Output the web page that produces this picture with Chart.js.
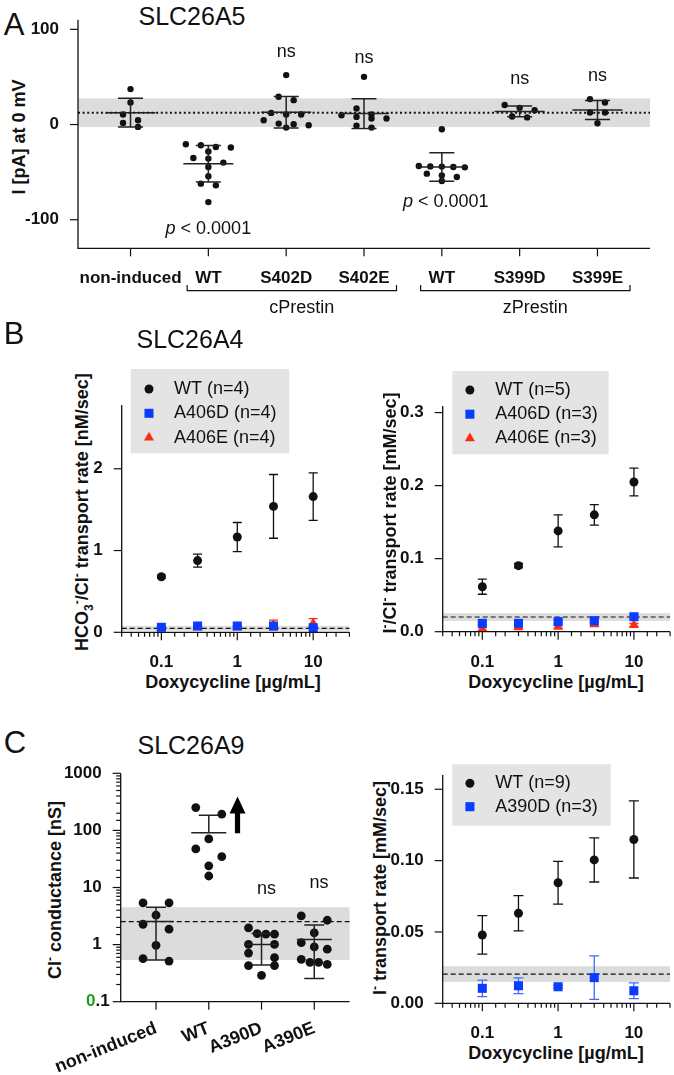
<!DOCTYPE html>
<html lang="en">
<head>
<meta charset="utf-8">
<title>SLC26A5 / SLC26A4 / SLC26A9 mutants</title>
<script src="https://cdn.jsdelivr.net/npm/chart.js@4.4.1/dist/chart.umd.min.js"></script>
<style>
  html, body { margin: 0; padding: 0; background: #fff; }
  body { position: relative; width: 674px; height: 1075px; overflow: hidden;
         font-family: "Liberation Sans", Arial, Helvetica, sans-serif; color: #111; }
  canvas { position: absolute; }
  .lbl { position: absolute; white-space: nowrap; line-height: 1; transform: translate(-50%, -50%); }
  .vert { transform: translate(-50%, -50%) rotate(-90deg); }
  .panel { font-size: 31px; }
  .title { font-size: 25px; }
  .axis { font-size: 18px; font-weight: bold; }
  .axis sub, .axis sup { font-size: 12px; line-height: 0; }
</style>
</head>
<body>
<div class="lbl panel" style="left:14px;top:24px">A</div>
<div class="lbl title" style="left:192px;top:16px">SLC26A5</div>
<div class="lbl axis vert" style="left:19px;top:137px">I [pA] at 0 mV</div>
<canvas id="chartA"></canvas>

<div class="lbl panel" style="left:14px;top:333px">B</div>
<div class="lbl title" style="left:190px;top:339px">SLC26A4</div>
<div class="lbl axis vert" style="left:82px;top:512px">HCO<sub>3</sub><sup>-</sup>/Cl<sup>-</sup> transport rate [nM/sec]</div>
<div class="lbl axis" style="left:233px;top:682px">Doxycycline [µg/mL]</div>
<canvas id="chartB1"></canvas>
<div class="lbl axis vert" style="left:390px;top:513px">I<sup>-</sup>/Cl<sup>-</sup> transport rate [mM/sec]</div>
<div class="lbl axis" style="left:556px;top:682px">Doxycycline [µg/mL]</div>
<canvas id="chartB2"></canvas>

<div class="lbl panel" style="left:15px;top:742px">C</div>
<div class="lbl title" style="left:191px;top:745px">SLC26A9</div>
<div class="lbl axis vert" style="left:55px;top:890px">Cl<sup>-</sup> conductance [nS]</div>
<canvas id="chartC1"></canvas>
<div class="lbl axis vert" style="left:380px;top:888px">I<sup>-</sup> transport rate [mM/sec]</div>
<div class="lbl axis" style="left:556px;top:1053px">Doxycycline [µg/mL]</div>
<canvas id="chartC2"></canvas>

<script>
// ---------- Panel A: SLC26A5, current at 0 mV (pA) ----------
const catsA = ['non-induced', 'WT', 'S402D', 'S402E', 'WT', 'S399D', 'S399E'];
const yTicksA = [-100, 0, 100];
const nonInducedA = [37.2, 23.2, 10.5, 4.5, 1.7, -2.5];
const cPrestinWT = [-20.7, -21.8, -23.6, -24.2, -28.4, -35.1, -35.8, -40.0, -44.6, -54.4, -62.1, -63.9, -81.5];
const cPrestinS402D = [51.9, 29.1, 25.6, 12.2, 10.5, 10.5, 4.5, 1.0, 0.3, -0.7, -3.2];
const cPrestinS402E = [50.1, 16.8, 10.5, 9.8, 8.0, 6.3, 6.3, -1.1, -3.2];
const zPrestinWT = [-4.9, -43.5, -44.0, -44.6, -45.0, -44.2, -51.6, -53.4, -55.1, -59.3];
const zPrestinS399D = [20.5, 17.5, 15.0, 8.5, 7.5];
const zPrestinS399E = [26.7, 23.2, 12.6, 12.6, 1.4];
const nsA = [[2, 76.4], [3, 69.5], [5, 47.7], [6, 51.2]];
const pLabelsA = [[1, -109.5], [4.05, -81.5]];
const bracketsA = [{from: 1, to: 3, label: 'cPrestin'}, {from: 4, to: 6, label: 'zPrestin'}];

// ---------- Panel B: SLC26A4 transport vs doxycycline ----------
const doses = [0.1, 0.3, 1, 3, 10];
const b1WT = [0.68, 0.877, 1.165, 1.54, 1.66];
const b1WTsd = [0.02, 0.08, 0.178, 0.39, 0.29];
const b1A406D = [0.061, 0.077, 0.077, 0.077, 0.056];
const b1A406Dsd = [0.005, 0.005, 0.005, 0.005, 0.005];
const b1A406E = [0.05, 0.06, 0.06, 0.09, 0.11];
const b1A406Esd = [0.01, 0.01, 0.01, 0.06, 0.057];
const b1Control = [0.049, 0.029];          // mean, SD
const b1Ticks = [0, 1, 2];

const b2WT = [0.0616, 0.0904, 0.138, 0.160, 0.205];
const b2WTsd = [0.0103, 0.003, 0.022, 0.014, 0.019];
const b2A406D = [0.0115, 0.0115, 0.0137, 0.0151, 0.0205];
const b2A406Dsd = [0.002, 0.002, 0.002, 0.002, 0.002];
const b2A406E = [0.0037, 0.006, 0.0068, 0.010, 0.0092];
const b2A406Esd = [0.002, 0.002, 0.002, 0.002, 0.002];
const b2Control = [0.0201, 0.0053];
const b2Ticks = [0, 0.1, 0.2, 0.3];

// ---------- Panel C: SLC26A9 ----------
const catsC = ['non-induced', 'WT', 'A390D', 'A390E'];
const nonInducedC = [5.38, 5.38, 3.27, 2.27, 1.86, 0.97, 0.515, 0.567];
const wtC = [251, 192.7, 71, 47.3, 34.6, 24, 15.9];
const a390dC = [1.96, 1.52, 1.52, 1.56, 1.01, 1.01, 0.71, 0.59, 0.43, 0.43, 0.29];
const a390eC = [3.18, 2.67, 1.6, 1.08, 0.91, 0.83, 0.55, 0.45, 0.49, 0.49];
const nsC = [[2.095, 9.3], [3.09, 12.1]];
const arrowC = {x: 1.545, from: 89, to: 393};

const c2WT = [0.0479, 0.0631, 0.0845, 0.1005, 0.1148];
const c2WTsd = [0.0135, 0.0124, 0.015, 0.0155, 0.027];
const c2A390D = [0.0105, 0.0123, 0.0116, 0.018, 0.0088];
const c2A390Dsd = [0.0058, 0.0055, 0.001, 0.0153, 0.0055];
const c2Control = [0.0205, 0.0055];
const c2Ticks = [0, 0.05, 0.10, 0.15];

// ---------- styling ----------
const FONT = '"Liberation Sans", Arial, Helvetica, sans-serif';
const INK = '#111111';
const BLUE = '#0a3cff';
const BLUE_ERR = '#3d6cf5';
const RED = '#ff2a10';
const BAND = '#dcdcdc';
const LEGEND_BG = '#e4e4e4';
const tickFont = {family: FONT, size: 17, weight: 'bold'};

Chart.defaults.font.family = FONT;
Chart.defaults.color = INK;

function isPow10(v) {
    var e = Math.log10(v);
    return Math.abs(e - Math.round(e)) < 1e-6;
}

function stats(vals) {
    var n = vals.length;
    var m = vals.reduce(function (a, b) { return a + b; }, 0) / n;
    var ss = vals.reduce(function (a, b) { return a + (b - m) * (b - m); }, 0);
    return [m, Math.sqrt(ss / (n - 1))];
}

function drawMarker(ctx, style, x, y, r, color) {
    ctx.fillStyle = color;
    ctx.beginPath();
    if (style === 'rect') {
        var s = r * Math.SQRT1_2;
        ctx.rect(x - s, y - s, 2 * s, 2 * s);
    } else if (style === 'triangle') {
        for (var k = 0; k < 3; k++) {
            var a = k * 2 * Math.PI / 3;
            var px = x + Math.sin(a) * r, py = y - Math.cos(a) * r;
            if (k === 0) ctx.moveTo(px, py); else ctx.lineTo(px, py);
        }
        ctx.closePath();
    } else {
        ctx.arc(x, y, r, 0, Math.PI * 2);
    }
    ctx.fill();
}

/**
 * Axis lines and tick marks (minor ticks on log axes are shorter)
 */
Chart.register({
    id: 'frame',
    afterDraw: function (chart, args, o) {
        var ctx = chart.ctx, a = chart.chartArea;
        ctx.save();
        ctx.strokeStyle = INK;
        ctx.lineWidth = 1.3;
        ctx.beginPath();
        ctx.moveTo(a.left, a.top);
        ctx.lineTo(a.left, a.bottom);
        ctx.lineTo(a.right, a.bottom);
        ctx.stroke();
        ctx.lineWidth = 1.2;
        ['x', 'y'].forEach(function (id) {
            var s = chart.scales[id];
            s.ticks.forEach(function (t) {
                var p = s.getPixelForValue(t.value);
                var len = (s.type === 'logarithmic' && !isPow10(t.value)) ? 4.5 : 8;
                ctx.beginPath();
                if (id === 'x') { ctx.moveTo(p, a.bottom); ctx.lineTo(p, a.bottom + len); }
                else { ctx.moveTo(a.left, p); ctx.lineTo(a.left - len, p); }
                ctx.stroke();
            });
        });
        ctx.restore();
    }
});

/**
 * Grey control band (mean +/- SD) with its mean line
 */
Chart.register({
    id: 'band',
    beforeDatasetsDraw: function (chart, args, o) {
        if (!o.stat) return;
        var ctx = chart.ctx, a = chart.chartArea, ys = chart.scales.y;
        var m = o.stat[0], sd = o.stat[1];
        var top = ys.getPixelForValue(m + sd), bot = ys.getPixelForValue(m - sd), mid = ys.getPixelForValue(m);
        ctx.save();
        ctx.fillStyle = BAND;
        ctx.fillRect(a.left, top, a.right - a.left, bot - top);
        ctx.strokeStyle = INK;
        ctx.lineWidth = o.width;
        ctx.setLineDash(o.dash);
        ctx.beginPath();
        ctx.moveTo(a.left, mid);
        ctx.lineTo(a.right, mid);
        ctx.stroke();
        ctx.restore();
    }
});

/**
 * SD error bars for the dose-response series
 */
Chart.register({
    id: 'errBars',
    beforeDatasetsDraw: function (chart, args, o) {
        if (!o.cap) return;
        var ctx = chart.ctx, xs = chart.scales.x, ys = chart.scales.y;
        chart.data.datasets.slice().reverse().forEach(function (ds) {
            if (!ds.sd) return;
            ctx.save();
            ctx.strokeStyle = ds.errColor;
            ctx.lineWidth = 1.3;
            ds.data.forEach(function (p, i) {
                var x = xs.getPixelForValue(p.x);
                var y1 = ys.getPixelForValue(p.y + ds.sd[i]);
                var y2 = ys.getPixelForValue(p.y - ds.sd[i]);
                ctx.beginPath();
                ctx.moveTo(x, y1); ctx.lineTo(x, y2);
                ctx.moveTo(x - o.cap, y1); ctx.lineTo(x + o.cap, y1);
                ctx.moveTo(x - o.cap, y2); ctx.lineTo(x + o.cap, y2);
                ctx.stroke();
            });
            ctx.restore();
        });
    }
});

/**
 * Mean +/- SD for scatter dot plots
 */
Chart.register({
    id: 'meanSd',
    afterDatasetsDraw: function (chart, args, o) {
        if (!o.groups) return;
        var ctx = chart.ctx, xs = chart.scales.x, ys = chart.scales.y;
        ctx.save();
        ctx.strokeStyle = '#222';
        ctx.lineWidth = 1.5;
        o.groups.forEach(function (vals, gi) {
            var st = stats(vals), m = st[0], sd = st[1];
            var x = xs.getPixelForValue(gi);
            var ym = ys.getPixelForValue(m), yt = ys.getPixelForValue(m + sd);
            var lowOk = !(o.log && m - sd <= 0);
            var yb = lowOk ? ys.getPixelForValue(m - sd) : ym;
            ctx.beginPath();
            ctx.moveTo(x, yt); ctx.lineTo(x, yb);
            ctx.moveTo(x - o.cap, yt); ctx.lineTo(x + o.cap, yt);
            if (lowOk) { ctx.moveTo(x - o.cap, yb); ctx.lineTo(x + o.cap, yb); }
            ctx.moveTo(x - o.half, ym); ctx.lineTo(x + o.half, ym);
            ctx.stroke();
        });
        ctx.restore();
    }
});

/**
 * Grey legend box built from the datasets
 */
Chart.register({
    id: 'legendBox',
    afterDraw: function (chart, args, o) {
        if (!o.w) return;
        var ctx = chart.ctx, a = chart.chartArea;
        var x0 = a.left + o.dx, y0 = a.top + o.dy;
        ctx.save();
        ctx.fillStyle = LEGEND_BG;
        ctx.fillRect(x0, y0, o.w, o.h);
        chart.data.datasets.forEach(function (ds, i) {
            var cy = y0 + o.row0 + i * o.step;
            drawMarker(ctx, ds.pointStyle, x0 + o.mx, cy, ds.pointRadius, ds.backgroundColor);
            ctx.fillStyle = INK;
            ctx.font = '18px ' + FONT;
            ctx.textAlign = 'left';
            ctx.textBaseline = 'middle';
            ctx.fillText(ds.label, x0 + o.tx, cy);
        });
        ctx.restore();
    }
});

/**
 * Text notes in data coordinates ("ns", "p < 0.0001")
 */
Chart.register({
    id: 'notes',
    afterDraw: function (chart, args, o) {
        if (!o.items) return;
        var ctx = chart.ctx, xs = chart.scales.x, ys = chart.scales.y;
        ctx.save();
        ctx.fillStyle = INK;
        ctx.textBaseline = 'middle';
        ctx.textAlign = 'left';
        o.items.forEach(function (n) {
            var x = xs.getPixelForValue(n.x), y = ys.getPixelForValue(n.y);
            var total = 0;
            n.parts.forEach(function (p) {
                ctx.font = (p.it ? 'italic ' : '') + '18px ' + FONT;
                p.w = ctx.measureText(p.t).width;
                total += p.w;
            });
            var cx = x - total / 2;
            n.parts.forEach(function (p) {
                ctx.font = (p.it ? 'italic ' : '') + '18px ' + FONT;
                ctx.fillText(p.t, cx, y);
                cx += p.w;
            });
        });
        ctx.restore();
    }
});

/**
 * Group brackets under the category labels
 */
Chart.register({
    id: 'brackets',
    afterDraw: function (chart, args, o) {
        if (!o.items) return;
        var ctx = chart.ctx, xs = chart.scales.x, a = chart.chartArea;
        var y = a.bottom + 42.4;
        ctx.save();
        ctx.strokeStyle = INK;
        ctx.lineWidth = 1.2;
        o.items.forEach(function (b) {
            ctx.font = 'bold 17px ' + FONT;
            var l = xs.getPixelForValue(b.from) - ctx.measureText(o.cats[b.from]).width / 2 - 8;
            var r = xs.getPixelForValue(b.to) + ctx.measureText(o.cats[b.to]).width / 2 + 7;
            ctx.beginPath();
            ctx.moveTo(l, y - 5.7); ctx.lineTo(l, y); ctx.lineTo(r, y); ctx.lineTo(r, y - 5.7);
            ctx.stroke();
            ctx.font = '18px ' + FONT;
            ctx.fillStyle = INK;
            ctx.textAlign = 'center';
            ctx.textBaseline = 'middle';
            ctx.fillText(b.label, (l + r) / 2 + 10, y + 17.6);
        });
        ctx.restore();
    }
});

/**
 * Upward arrow next to the SLC26A9 WT group, and the green-zero "0.1" tick label
 */
Chart.register({
    id: 'extras',
    afterDraw: function (chart, args, o) {
        var ctx = chart.ctx, xs = chart.scales.x, ys = chart.scales.y, a = chart.chartArea;
        ctx.save();
        if (o.arrow) {
            var x = xs.getPixelForValue(o.arrow.x);
            var yb = ys.getPixelForValue(o.arrow.from), yt = ys.getPixelForValue(o.arrow.to);
            ctx.fillStyle = '#000';
            ctx.beginPath();
            ctx.moveTo(x - 2.6, yb); ctx.lineTo(x - 2.6, yt + 17); ctx.lineTo(x - 8, yt + 17);
            ctx.lineTo(x, yt); ctx.lineTo(x + 8, yt + 17); ctx.lineTo(x + 2.6, yt + 17);
            ctx.lineTo(x + 2.6, yb); ctx.closePath();
            ctx.fill();
        }
        if (o.greenZero) {
            var y = ys.getPixelForValue(o.greenZero);
            var right = a.left - 11;
            ctx.font = 'bold 17px ' + FONT;
            ctx.textBaseline = 'middle';
            ctx.textAlign = 'right';
            ctx.fillStyle = INK;
            ctx.fillText('.1', right, y);
            var w = ctx.measureText('.1').width;
            ctx.fillStyle = '#22a022';
            ctx.fillText('0', right - w, y);
        }
        ctx.restore();
    }
});

// ---------- layout helpers ----------
function place(id, box) {
    var c = document.getElementById(id);
    c.width = box.w;
    c.height = box.h;
    c.style.left = box.left + 'px';
    c.style.top = box.top + 'px';
    return c;
}

function fit(box, area) {
    return {
        box: box,
        layout: {autoPadding: false, padding: {left: 0, bottom: 0, top: area.t - box.top, right: box.left + box.w - area.r}},
        yW: area.l - box.left,
        xH: box.top + box.h - area.b
    };
}

function zeroPad(s) { s.paddingLeft = s.paddingRight = s.paddingTop = s.paddingBottom = 0; }
function fixX(h) { return function (s) { s.height = h; zeroPad(s); }; }
function fixY(w) { return function (s) { s.width = w; zeroPad(s); }; }

function catAxis(cats, min, max, h, rot, size) {
    return {
        type: 'linear', min: min, max: max,
        afterBuildTicks: function (s) { s.ticks = cats.map(function (c, i) { return {value: i}; }); },
        afterFit: fixX(h),
        grid: {display: false}, border: {display: false},
        ticks: {autoSkip: false, minRotation: rot, maxRotation: rot, padding: rot ? 8 : 12,
                font: {family: FONT, size: size, weight: 'bold'}, color: INK,
                callback: function (v) { return cats[v]; }}
    };
}

function linAxis(min, max, ticks, w, fmt) {
    return {
        type: 'linear', min: min, max: max,
        afterBuildTicks: function (s) { s.ticks = ticks.map(function (v) { return {value: v}; }); },
        afterFit: fixY(w),
        grid: {display: false}, border: {display: false},
        ticks: {padding: 11, font: tickFont, color: INK, callback: fmt}
    };
}

function logAxis(min, max, isX, size, skip) {
    return {
        type: 'logarithmic', min: min, max: max,
        afterFit: isX ? fixX(size) : fixY(size),
        grid: {display: false}, border: {display: false},
        ticks: {autoSkip: false, maxRotation: 0, padding: isX ? 12 : 11, font: tickFont, color: INK,
                callback: function (v) {
                    if (!isPow10(v) || v === skip) return '';
                    return String(Math.pow(10, Math.round(Math.log10(v))));
                }}
    };
}

function baseOptions(l, scales, plugins) {
    return {
        responsive: false, animation: false, devicePixelRatio: 1, events: [],
        layout: l.layout,
        scales: scales,
        plugins: Object.assign({legend: {display: false}, tooltip: {enabled: false}}, plugins)
    };
}

function dotSet(groups, r) {
    var pts = [];
    groups.forEach(function (vals, gi) { vals.forEach(function (v) { pts.push({x: gi, y: v}); }); });
    return {data: pts, pointRadius: r, backgroundColor: INK, pointBackgroundColor: INK,
            borderWidth: 0, pointBorderWidth: 0, clip: false};
}

function doseSet(label, ys, sd, style, color, r, errColor) {
    return {
        label: label,
        data: doses.map(function (d, i) { return {x: d, y: ys[i]}; }),
        sd: sd, errColor: errColor || color,
        pointStyle: style, pointRadius: r,
        backgroundColor: color, pointBackgroundColor: color, borderColor: color,
        borderWidth: 0, pointBorderWidth: 0, clip: false
    };
}

// spread the dots of each group sideways in rows, the way a scatter dot plot does
function swarm(chart, groups, binH, step, maxHalf) {
    var xs = chart.scales.x, ys = chart.scales.y;
    var unit = xs.getPixelForValue(1) - xs.getPixelForValue(0);
    var pts = [];
    groups.forEach(function (vals, gi) {
        var items = vals.map(function (v) { return {v: v, py: ys.getPixelForValue(v)}; })
                        .sort(function (a, b) { return a.py - b.py; });
        var i = 0;
        while (i < items.length) {
            var row = [items[i]], j = i + 1;
            while (j < items.length && items[j].py - items[i].py < binH) row.push(items[j++]);
            var n = row.length;
            var off = row.map(function (_, k) { return (k - (n - 1) / 2) * step; });
            var span = Math.abs(off[0]);
            if (span > maxHalf) off = off.map(function (d) { return d * maxHalf / span; });
            row.forEach(function (it, k) { pts.push({x: gi + off[k] / unit, y: it.v}); });
            i = j;
        }
    });
    chart.data.datasets[0].data = pts;
    chart.update('none');
}

function noteItems(list, parts) {
    return list.map(function (p) { return {x: p[0], y: p[1], parts: parts.map(function (q) { return Object.assign({}, q); })}; });
}

// ---------- Panel A ----------
var groupsA = [nonInducedA, cPrestinWT, cPrestinS402D, cPrestinS402E, zPrestinWT, zPrestinS399D, zPrestinS399E];
var lA = fit({left: 0, top: 0, w: 674, h: 330}, {l: 78, t: 19.8, r: 650, b: 248.3});
var chartA = new Chart(place('chartA', lA.box), {
    type: 'scatter',
    data: {datasets: [dotSet(groupsA, 3.2)]},
    options: baseOptions(lA, {
        x: catAxis(catsA, -0.675, 6.675, lA.xH, 0, 17),
        y: linAxis(-130, 110, yTicksA, lA.yW, function (v) { return String(v); })
    }, {
        band: {stat: stats(nonInducedA), dash: [2, 2.6], width: 2},
        meanSd: {groups: groupsA, cap: 12.5, half: 25},
        notes: {items: noteItems(nsA, [{t: 'ns'}]).concat(noteItems(pLabelsA, [{t: 'p', it: true}, {t: ' < 0.0001'}]))},
        brackets: {items: bracketsA, cats: catsA}
    })
});
swarm(chartA, groupsA, 6, 15, 23);

// ---------- Panel B, left: HCO3-/Cl- ----------
var lB1 = fit({left: 0, top: 355, w: 360, h: 320}, {l: 121.7, t: 405, r: 349.4, b: 632.3});
new Chart(place('chartB1', lB1.box), {
    type: 'scatter',
    data: {datasets: [
        doseSet('WT (n=4)', b1WT, b1WTsd, 'circle', INK, 4.5),
        doseSet('A406D (n=4)', b1A406D, b1A406Dsd, 'rect', BLUE, 6.4),
        doseSet('A406E (n=4)', b1A406E, b1A406Esd, 'triangle', RED, 5.8)
    ]},
    options: baseOptions(lB1, {
        x: logAxis(0.03, 30, true, lB1.xH),
        y: linAxis(0, 2.78, b1Ticks, lB1.yW, function (v) { return String(v); })
    }, {
        band: {stat: b1Control, dash: [5, 3], width: 1.2},
        errBars: {cap: 4.5},
        legendBox: {dx: 9, dy: -36, w: 158.6, h: 84.3, row0: 20, step: 24.3, mx: 18.3, tx: 43.3}
    })
});

// ---------- Panel B, right: I-/Cl- ----------
var lB2 = fit({left: 360, top: 355, w: 314, h: 320}, {l: 442.7, t: 406, r: 670.1, b: 631.7});
new Chart(place('chartB2', lB2.box), {
    type: 'scatter',
    data: {datasets: [
        doseSet('WT (n=5)', b2WT, b2WTsd, 'circle', INK, 4.5),
        doseSet('A406D (n=3)', b2A406D, b2A406Dsd, 'rect', BLUE, 6.4),
        doseSet('A406E (n=3)', b2A406E, b2A406Esd, 'triangle', RED, 5.8)
    ]},
    options: baseOptions(lB2, {
        x: logAxis(0.03, 30, true, lB2.xH),
        y: linAxis(0, 0.309, b2Ticks, lB2.yW, function (v) { return v.toFixed(1); })
    }, {
        band: {stat: b2Control, dash: [5, 3], width: 1.2},
        errBars: {cap: 4.5},
        legendBox: {dx: 9.6, dy: -35, w: 156.4, h: 83.3, row0: 19, step: 24.2, mx: 17.6, tx: 43}
    })
});

// ---------- Panel C, left: Cl- conductance ----------
var groupsC = [nonInducedC, wtC, a390dC, a390eC];
var lC1 = fit({left: 0, top: 760, w: 360, h: 315}, {l: 120.7, t: 773.3, r: 349.6, b: 1001.7});
var chartC1 = new Chart(place('chartC1', lC1.box), {
    type: 'scatter',
    data: {datasets: [dotSet(groupsC, 4.4)]},
    options: baseOptions(lC1, {
        x: catAxis(catsC, -0.67, 3.67, lC1.xH, 22, 18),
        y: logAxis(0.1, 1000, false, lC1.yW, 0.1)
    }, {
        band: {stat: stats(nonInducedC), dash: [5, 3], width: 1.2},
        meanSd: {groups: groupsC, cap: 10, half: 17.5, log: true},
        notes: {items: noteItems(nsC, [{t: 'ns'}])},
        extras: {arrow: arrowC, greenZero: 0.1}
    })
});
swarm(chartC1, groupsC, 8.7, 26, 13);

// ---------- Panel C, right: I- transport ----------
var lC2 = fit({left: 360, top: 760, w: 314, h: 315}, {l: 442.7, t: 775, r: 670, b: 1003.3});
new Chart(place('chartC2', lC2.box), {
    type: 'scatter',
    data: {datasets: [
        doseSet('WT (n=9)', c2WT, c2WTsd, 'circle', INK, 4.5),
        doseSet('A390D (n=3)', c2A390D, c2A390Dsd, 'rect', BLUE, 6.4, BLUE_ERR)
    ]},
    options: baseOptions(lC2, {
        x: logAxis(0.03, 30, true, lC2.xH),
        y: linAxis(0, 0.16, c2Ticks, lC2.yW, function (v) { return v.toFixed(2); })
    }, {
        band: {stat: c2Control, dash: [5, 3], width: 1.2},
        errBars: {cap: 5},
        legendBox: {dx: 9.6, dy: -10.7, w: 158.4, h: 61.4, row0: 19, step: 23.4, mx: 17.6, tx: 43}
    })
});
</script>
</body>
</html>
